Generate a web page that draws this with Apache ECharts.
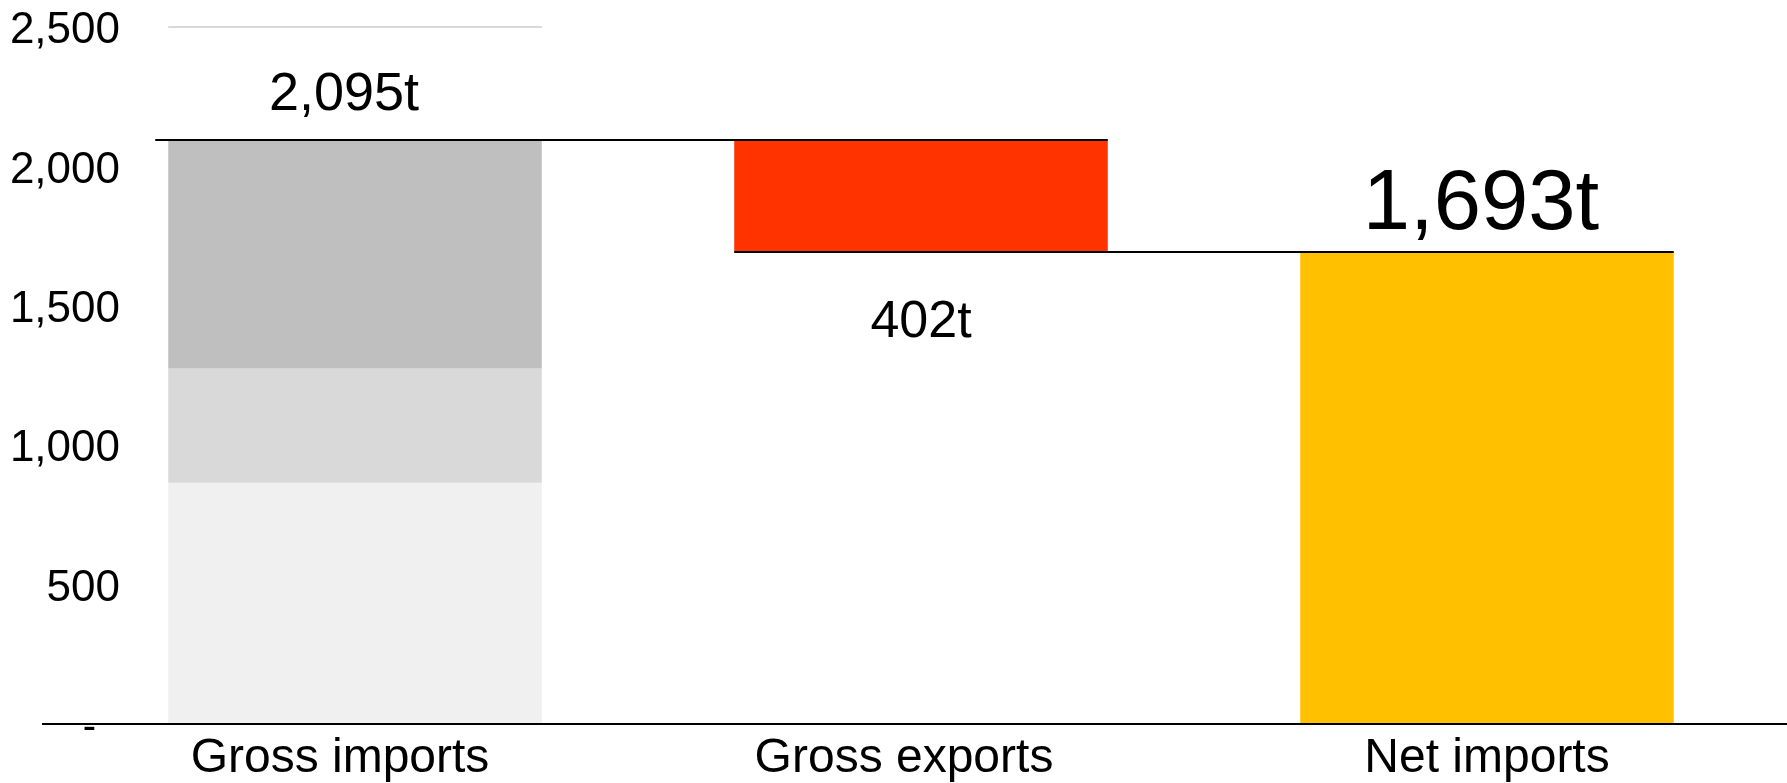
<!DOCTYPE html>
<html>
<head>
<meta charset="utf-8">
<script src="https://cdn.jsdelivr.net/npm/echarts@6/dist/echarts.min.js"></script>
<style>
html,body{margin:0;padding:0;background:#fff;}
#chart{width:1787px;height:783px;}
</style>
</head>
<body>
<div id="chart"></div>
<script>
const categories = ['Gross imports', 'Gross exports', 'Net imports'];
const importsSegments = [865, 410, 820];   // bottom to top segments of gross imports
const grossExports = 402;
const netImports = 1693;
const yTickValues = [0, 500, 1000, 1500, 2000, 2500];
const yTickLabels = ['-', '500', '1,000', '1,500', '2,000', '2,500'];

const grossImports = importsSegments.reduce((a, b) => a + b, 0);
const fmt = v => v.toLocaleString('en-US') + 't';
const FONT = '"Liberation Sans", Arial, sans-serif';

const chart = echarts.init(document.getElementById('chart'));

const segColors = ['#f0f0f0', '#d9d9d9', '#bfbfbf'];
const segSeries = importsSegments.map((v, i) => ({
  type: 'bar', stack: 'w', barWidth: '66%', silent: true,
  itemStyle: { color: segColors[i] },
  data: [i === importsSegments.length - 1
    ? { value: v, label: { show: true, position: 'top', distance: 18, offset: [-11, 0],
        formatter: () => fmt(grossImports), fontSize: 54, color: '#000', fontFamily: FONT } }
    : v, '-', '-']
}));

const connectors = [
  [0, 1, grossImports],
  [1, 2, netImports]
];

// small per-category label shifts (padding on right moves text left)
const catShift = { 'Gross imports': 30, 'Gross exports': 34, 'Net imports': 0 };

chart.setOption({
  animation: false,
  grid: { left: 72, right: 17, top: 27, bottom: 59, containLabel: false, outerBoundsMode: 'none' },
  xAxis: {
    type: 'category', data: categories,
    axisLine: { show: true, lineStyle: { color: '#000', width: 2 } },
    axisTick: { show: false },
    axisLabel: {
      margin: 11, interval: 0,
      formatter: v => '{c' + categories.indexOf(v) + '|' + v + '}',
      rich: {
        c0: { fontSize: 48, color: '#000', fontFamily: FONT, padding: [0, catShift['Gross imports'], 0, 0] },
        c1: { fontSize: 48, color: '#000', fontFamily: FONT, padding: [0, catShift['Gross exports'], 0, 0] },
        c2: { fontSize: 48, color: '#000', fontFamily: FONT, padding: [0, catShift['Net imports'], 0, 0] }
      }
    },
    z: 10
  },
  yAxis: {
    type: 'value', min: 0, max: 2500, interval: 500, offset: -50,
    splitLine: { show: false }, axisLine: { show: false }, axisTick: { show: false },
    axisLabel: {
      fontSize: 44, color: '#000', fontFamily: FONT, margin: 2, padding: [8, 0, 0, 0],
      formatter: v => {
        const idx = yTickValues.indexOf(v);
        const t = idx >= 0 ? yTickLabels[idx] : '';
        return v === 0 ? '{d|' + t + '}' : t;
      },
      rich: { d: { fontSize: 40, fontFamily: FONT, color: '#000', padding: [0, 24, 0, 0] } }
    }
  },
  series: [
    ...segSeries,
    { type: 'bar', stack: 'w', barWidth: '66%', silent: true,
      itemStyle: { color: 'transparent' },
      data: ['-', netImports, '-'] },
    { type: 'bar', stack: 'w', barWidth: '66%', silent: true,
      itemStyle: { color: '#ff3300' },
      label: { show: true, position: 'bottom', distance: 45, formatter: () => fmt(grossExports),
        fontSize: 52, color: '#000', fontFamily: FONT },
      data: ['-', grossExports, '-'] },
    { type: 'bar', stack: 'w', barWidth: '66%', silent: true,
      itemStyle: { color: '#ffc000' },
      label: { show: true, position: 'top', distance: 4, offset: [-6, 0], formatter: () => fmt(netImports),
        fontSize: 85, color: '#000', fontFamily: FONT },
      data: ['-', '-', netImports] },
    { // connector lines between bars
      type: 'custom', silent: true, z: 5,
      data: connectors,
      renderItem: (params, api) => {
        const p1 = api.coord([api.value(0), api.value(2)]);
        const p2 = api.coord([api.value(1), api.value(2)]);
        const half = api.size([1, 0])[0] * 0.33;
        const ext = params.dataIndex === 0 ? 13 : 0;
        return { type: 'line', shape: { x1: p1[0] - half - ext, y1: p1[1], x2: p2[0] + half, y2: p2[1] },
          style: { stroke: '#000', lineWidth: 2 } };
      }
    },
    { // light top gridline over first bar only
      type: 'custom', silent: true, z: 1,
      data: [[0, 2500]],
      renderItem: (params, api) => {
        const p = api.coord([api.value(0), api.value(1)]);
        const half = api.size([1, 0])[0] * 0.33;
        return { type: 'line', shape: { x1: p[0] - half, y1: p[1], x2: p[0] + half, y2: p[1] },
          style: { stroke: '#d9d9d9', lineWidth: 2 } };
      }
    },
    { // baseline extension across full width
      type: 'custom', silent: true, z: 6,
      data: [[0, 0]],
      renderItem: (params, api) => {
        const p = api.coord([api.value(0), api.value(1)]);
        const cs = params.coordSys;
        return { type: 'line', shape: { x1: cs.x - 30, y1: p[1], x2: cs.x + cs.width + 17, y2: p[1] },
          style: { stroke: '#000', lineWidth: 2 } };
      }
    }
  ]
});
</script>
</body>
</html>
